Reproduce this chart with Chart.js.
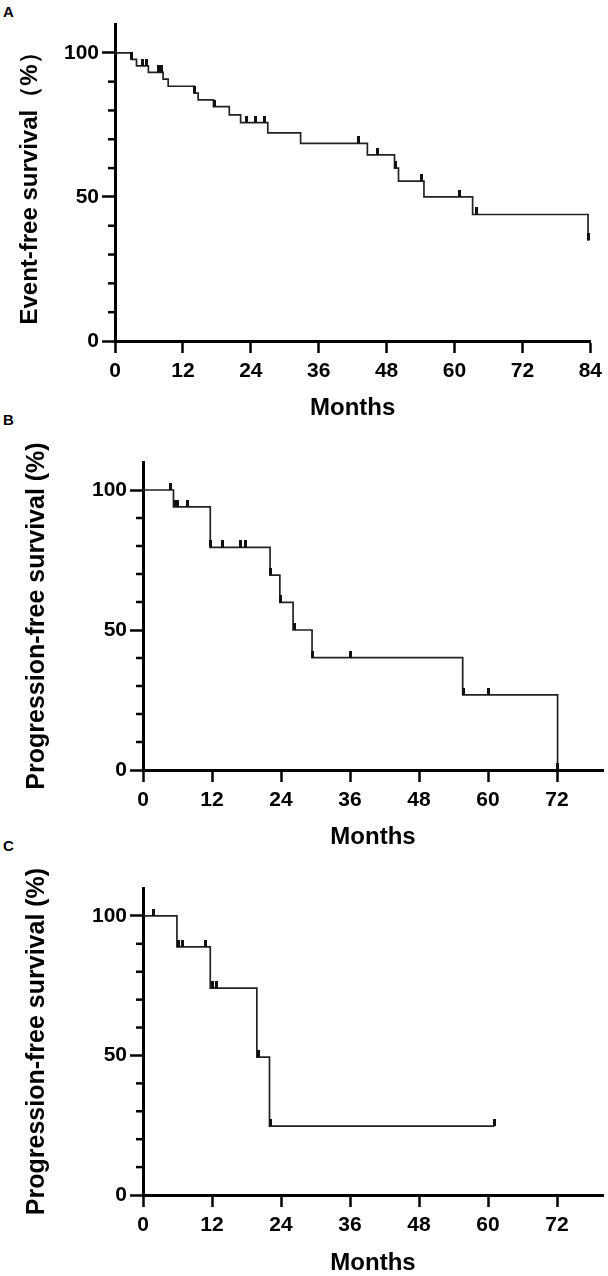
<!DOCTYPE html>
<html><head><meta charset="utf-8">
<script src="https://cdn.jsdelivr.net/npm/chart.js@4.4.1/dist/chart.umd.min.js"></script>
<style>
html,body{margin:0;padding:0;background:#fff;}
body{position:relative;width:608px;height:1276px;overflow:hidden;}
canvas{position:absolute;left:0;}
.lbl{position:absolute;font:bold 15px 'Liberation Sans',Arial,sans-serif;line-height:1;color:#000;}
</style></head><body>
<div class="lbl" style="left:3px;top:4px">A</div>
<div class="lbl" style="left:3px;top:412px">B</div>
<div class="lbl" style="left:3px;top:838px">C</div>
<canvas id="cA" width="608" height="422" style="top:0px"></canvas>
<canvas id="cB" width="608" height="430" style="top:422px"></canvas>
<canvas id="cC" width="608" height="424" style="top:852px"></canvas>
<script>
// ---- tick labels ----
const monthTicksA = [0, 12, 24, 36, 48, 60, 72, 84];
const monthTicksBC = [0, 12, 24, 36, 48, 60, 72];
const survTicks = [0, 50, 100];
const survMinor = [10, 20, 30, 40, 60, 70, 80, 90];

// ---- Panel A: event-free survival ----
const efsTime = [0, 2.9, 3.8, 5.9, 8.5, 9.4, 14.0, 14.7, 17.4, 20.2, 22.2, 27.0, 32.8, 44.6, 49.4, 50.1, 54.6, 63.2, 83.6];
const efsSurv = [100, 97.7, 95.5, 93.2, 90.9, 88.4, 86.0, 83.7, 81.3, 78.5, 75.8, 72.2, 68.6, 64.6, 60.0, 55.5, 50.0, 43.9, 34.9];
const efsCensTime = [3.0, 4.8, 5.5, 7.7, 8.3, 14.1, 17.6, 23.2, 24.8, 26.5, 43.1, 46.4, 49.6, 54.1, 60.8, 63.8, 83.6];
const efsCensSurv = [97.7, 95.5, 95.5, 93.2, 93.2, 86.0, 81.3, 75.8, 75.8, 75.8, 68.6, 64.6, 60.0, 55.5, 50.0, 43.9, 34.9];

// ---- Panel B: progression-free survival ----
const pfsBTime = [0, 5.3, 11.7, 22.1, 23.8, 26.1, 29.4, 55.6, 72.1];
const pfsBSurv = [100, 94.0, 79.5, 69.6, 59.9, 50.0, 40.1, 26.8, 0];
const pfsBCensTime = [4.7, 5.6, 6.0, 7.8, 11.8, 13.8, 16.9, 17.9, 22.2, 23.9, 26.4, 29.5, 36.0, 55.7, 60.0, 72.1];
const pfsBCensSurv = [100, 94.0, 94.0, 94.0, 79.5, 79.5, 79.5, 79.5, 69.6, 59.9, 50.0, 40.1, 40.1, 26.8, 26.8, 0];

// ---- Panel C: progression-free survival ----
const pfsCTime = [0, 5.9, 11.7, 19.8, 22.0, 61.1];
const pfsCSurv = [100, 88.9, 74.1, 49.4, 24.7, 24.7];
const pfsCCensTime = [1.8, 6.2, 6.9, 10.8, 12.0, 12.8, 20.0, 22.1, 61.1];
const pfsCCensSurv = [100, 88.9, 88.9, 88.9, 74.1, 74.1, 49.4, 24.7, 24.7];

const FF = "'Liberation Sans', Arial, Helvetica, sans-serif";

function pts(t, s) { return t.map((x, i) => ({x: x, y: s[i]})); }

function censorMark() {
  const c = document.createElement('canvas');
  c.width = 3; c.height = 14;
  const g = c.getContext('2d');
  g.fillStyle = '#111';
  g.fillRect(0, 0, 3, 7);
  return c;
}

const minorTicks = {
  id: 'minorTicks',
  afterDraw(chart) {
    const y = chart.scales.y, ctx = chart.ctx;
    ctx.save();
    ctx.strokeStyle = '#000';
    ctx.lineWidth = 2.5;
    survMinor.forEach(v => {
      const py = y.getPixelForValue(v);
      ctx.beginPath();
      ctx.moveTo(y.right - 7, py);
      ctx.lineTo(y.right, py);
      ctx.stroke();
    });
    ctx.restore();
  }
};

function makeChart(id, cfg) {
  new Chart(document.getElementById(id), {
    type: 'line',
    data: {
      datasets: [
        {data: pts(cfg.t, cfg.s), stepped: 'before', borderColor: '#222', borderWidth: 1.7,
         pointRadius: 0, fill: false, order: 2},
        {type: 'scatter', data: pts(cfg.ct, cfg.cs), pointStyle: censorMark(), pointRadius: 4,
         showLine: false, order: 1}
      ]
    },
    options: {
      responsive: false, animation: false, events: [],
      layout: {padding: {left: 0, top: cfg.top, right: cfg.right, bottom: 0}},
      plugins: {legend: {display: false}, tooltip: {enabled: false}},
      scales: {
        x: {
          type: 'linear', min: 0, max: cfg.xmax,
          afterBuildTicks: s => { s.ticks = cfg.xt.map(v => ({value: v})); },
          afterFit: s => { s.height = cfg.xh; },
          grid: {display: true, drawOnChartArea: false, drawTicks: true, tickLength: 12, tickWidth: 2.5, tickColor: '#000'},
          border: {display: true, width: 3, color: '#000'},
          ticks: {font: {family: FF, size: 21, weight: 'bold'}, color: '#000', padding: 6, maxRotation: 0, autoSkip: false},
          title: {display: true, text: 'Months', color: '#000',
                  font: {family: FF, size: 24, weight: 'bold', lineHeight: 1}, padding: {top: cfg.xtp, bottom: cfg.xtp}}
        },
        y: {
          type: 'linear', min: 0, max: 110,
          afterBuildTicks: s => { s.ticks = survTicks.map(v => ({value: v})); },
          afterFit: s => { s.width = cfg.yw; },
          grid: {display: true, drawOnChartArea: false, drawTicks: true, tickLength: 13, tickWidth: 2.5, tickColor: '#000'},
          border: {display: true, width: 3, color: '#000'},
          ticks: {font: {family: FF, size: 21, weight: 'bold'}, color: '#000', padding: 3},
          title: {display: true, text: cfg.ylabel, color: '#000',
                  font: {family: FF, size: cfg.yfs, weight: 'bold', lineHeight: 1}, padding: {top: cfg.ytp, bottom: cfg.ytp}}
        }
      }
    },
    plugins: [minorTicks]
  });
}

makeChart('cA', {t: efsTime, s: efsSurv, ct: efsCensTime, cs: efsCensSurv, xt: monthTicksA, xmax: 84,
  top: 24, right: 16, xh: 81, yw: 115, xtp: 2, ytp: 18, yfs: 24, ylabel: 'Event-free survival（%）'});
makeChart('cB', {t: pfsBTime, s: pfsBSurv, ct: pfsBCensTime, cs: pfsBCensSurv, xt: monthTicksBC, xmax: 80,
  top: 40, right: 2, xh: 82, yw: 143, xtp: 3, ytp: 25, yfs: 25, ylabel: 'Progression-free survival (%)'});
makeChart('cC', {t: pfsCTime, s: pfsCSurv, ct: pfsCCensTime, cs: pfsCCensSurv, xt: monthTicksBC, xmax: 80,
  top: 36, right: 2, xh: 81, yw: 143, xtp: 1, ytp: 25, yfs: 25, ylabel: 'Progression-free survival (%)'});
</script>
</body></html>
